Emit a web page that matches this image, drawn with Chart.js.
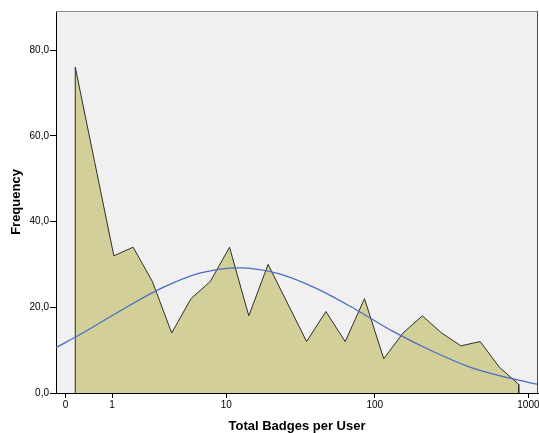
<!DOCTYPE html>
<html>
<head>
<meta charset="utf-8">
<script src="https://cdn.jsdelivr.net/npm/chart.js@4/dist/chart.umd.min.js"></script>
<style>
  html, body { margin: 0; padding: 0; background: #ffffff; }
  #wrap { width: 539px; height: 433px; }
</style>
</head>
<body>
<div id="wrap"><canvas id="c" width="539" height="433"></canvas></div>
<script>
// x positions are in log10(badges + 1) units (the axis is log-scaled)
const binCenters = [0.0625, 0.1875, 0.3125, 0.4375, 0.5625, 0.6875, 0.8125, 0.9375, 1.0625, 1.1875, 1.3125, 1.4375,
                    1.5625, 1.6875, 1.8125, 1.9375, 2.0625, 2.1875, 2.3125, 2.4375, 2.5625, 2.6875, 2.8125, 2.9375];
const frequencies = [76, 54, 32, 34, 26, 14, 22, 26, 34, 18, 30, 21,
                     12, 19, 12, 22, 8, 14, 18, 14, 11, 12, 6, 2];
// fitted normal curve
const normalX = [-0.0625, 0.125, 0.375, 0.625, 0.875, 1.125, 1.375, 1.625, 1.875, 2.125, 2.375, 2.625, 2.875, 3.0625];
const normalY = [10.6, 14.3, 19.6, 24.5, 28.0, 29.2, 27.9, 24.4, 19.6, 14.3, 9.8, 6.0, 3.5, 2.0];
const xTickValues = [0, 1, 10, 100, 1000];
const xTickLabels = ['0', '1', '10', '100', '1000'];
const yTickValues = [0, 20, 40, 60, 80];
const yTickLabels = ['0,0', '20,0', '40,0', '60,0', '80,0'];

const polygonData = [{x: binCenters[0], y: 0}]
  .concat(binCenters.map((x, i) => ({x: x, y: frequencies[i]})))
  .concat([{x: binCenters[binCenters.length - 1], y: 0}]);
const normalData = normalX.map((x, i) => ({x: x, y: normalY[i]}));

const plotBg = {
  id: 'plotBg',
  beforeDraw(chart) {
    const a = chart.chartArea, ctx = chart.ctx;
    ctx.save();
    ctx.fillStyle = '#f0f0f0';
    ctx.fillRect(a.left, a.top, a.right - a.left, a.bottom - a.top);
    ctx.restore();
  },
  afterDraw(chart) {
    const a = chart.chartArea, ctx = chart.ctx;
    ctx.save();
    ctx.lineWidth = 1;
    ctx.strokeStyle = '#8c8c8c';
    ctx.beginPath();
    ctx.moveTo(a.left, a.top + 0.5);
    ctx.lineTo(a.right, a.top + 0.5);
    ctx.stroke();
    ctx.strokeStyle = '#4a4a4a';
    ctx.beginPath();
    ctx.moveTo(a.right - 0.5, a.top);
    ctx.lineTo(a.right - 0.5, a.bottom);
    ctx.stroke();
    ctx.restore();
  }
};

const font = "Arial, 'Liberation Sans', sans-serif";

new Chart(document.getElementById('c'), {
  type: 'line',
  data: {
    datasets: [
      {
        data: polygonData,
        order: 2,
        fill: 'origin',
        backgroundColor: '#d3cf98',
        borderColor: '#2e2e2e',
        borderWidth: 1,
        pointRadius: 0,
        tension: 0
      },
      {
        data: normalData,
        order: 1,
        fill: false,
        borderColor: '#4c6cc4',
        borderWidth: 1.3,
        pointRadius: 0,
        cubicInterpolationMode: 'monotone'
      }
    ]
  },
  options: {
    responsive: false,
    animation: false,
    events: [],
    layout: { padding: { top: 11, right: 1, left: 0, bottom: 0 } },
    plugins: { legend: { display: false }, tooltip: { enabled: false } },
    scales: {
      x: {
        type: 'linear',
        min: -0.0625,
        max: 3.0625,
        z: 1,
        border: { display: true, color: '#000000', width: 1 },
        grid: { display: true, drawOnChartArea: false, drawTicks: true, tickLength: 5, color: '#000000' },
        afterBuildTicks(scale) { scale.ticks = xTickValues.map(v => ({ value: Math.log10(v + 1) })); },
        afterFit(scale) { scale.height = 40; scale.paddingRight = 0; scale.paddingLeft = 0; },
        ticks: {
          autoSkip: false,
          maxRotation: 0,
          padding: 1,
          color: '#000000',
          font: { family: font, size: 10 },
          callback: (v, i) => xTickLabels[i]
        },
        title: {
          display: true,
          text: 'Total Badges per User',
          color: '#000000',
          font: { family: font, size: 13, weight: 'bold', lineHeight: 1 },
          padding: { top: 0, bottom: 0 }
        }
      },
      y: {
        type: 'linear',
        min: 0,
        max: 89.1,
        z: 1,
        border: { display: true, color: '#000000', width: 1 },
        grid: { display: true, drawOnChartArea: false, drawTicks: true, tickLength: 6, color: '#000000' },
        afterBuildTicks(scale) { scale.ticks = yTickValues.map(v => ({ value: v })); },
        afterFit(scale) { scale.width = 56; },
        ticks: {
          padding: 1,
          color: '#000000',
          font: { family: font, size: 10 },
          callback: (v, i) => yTickLabels[i]
        },
        title: {
          display: true,
          text: 'Frequency',
          color: '#000000',
          font: { family: font, size: 13, weight: 'bold', lineHeight: 1 },
          padding: { top: 10, bottom: 0 }
        }
      }
    }
  },
  plugins: [plotBg]
});
</script>
</body>
</html>
